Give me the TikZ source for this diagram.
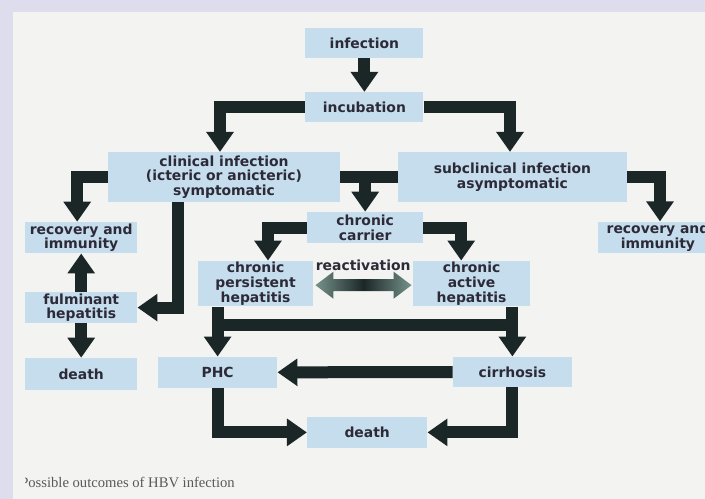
\documentclass[tikz,border=0pt]{standalone}
\usepackage{fontspec}
\newfontfamily\boxfont{DejaVu Sans}
\newfontfamily\capfont{Liberation Serif}
\usetikzlibrary{arrows.meta, positioning, calc}

\definecolor{paper}{RGB}{243,243,242}
\definecolor{frame}{RGB}{222,221,238}
\definecolor{boxblue}{RGB}{197,221,236}
\definecolor{arrowc}{RGB}{27,39,39}
\definecolor{inkc}{RGB}{45,42,56}
\definecolor{reactc}{RGB}{118,146,138}

\tikzset{
  outcome/.style={fill=boxblue, text=inkc, align=center, inner sep=1pt,
    minimum width=2.8cm, minimum height=0.78cm,
    font={\boxfont\bfseries\fontsize{9.9pt}{10.4pt}\selectfont}},
  flow/.style={draw=arrowc, line width=0.3cm, line join=miter,
    -{Triangle[width=0.66cm, length=0.5cm]}},
  joint/.style={draw=arrowc, line width=0.3cm}
}

\begin{document}
\begin{tikzpicture}
    % Page
    \clip (0,0) rectangle (17.625,-12.475);
    \fill[frame] (0,0) rectangle (17.625,-12.475);
    \fill[paper] (0.32,-0.3) rectangle (17.625,-12.475);

    % Stages
    \node[outcome, minimum width=2.95cm, minimum height=0.75cm] (infection) at (9.11,-1.08) {infection};
    \node[outcome, minimum width=2.95cm, minimum height=0.75cm] (incubation) at (9.11,-2.68) {incubation};
    \node[outcome, minimum width=5.8cm, minimum height=1.25cm] (clinical) at (5.6,-4.43) {clinical infection\\(icteric or anicteric)\\symptomatic};
    \node[outcome, minimum width=5.73cm, minimum height=1.25cm] (subclin) at (12.81,-4.43) {subclinical infection\\asymptomatic};
    \node[outcome] (recL) at (2.03,-5.94) {recovery and\\immunity};
    \node[outcome, minimum width=3cm, minimum height=0.76cm] (recR) at (16.45,-5.93) {recovery and\\immunity};
    \node[outcome, minimum width=2.9cm] (carrier) at (9.13,-5.69) {chronic\\carrier};
    \node[outcome, minimum width=2.88cm, minimum height=1.08cm] (cph) at (6.39,-7.09) {chronic\\persistent\\hepatitis};
    \node[outcome, minimum width=2.93cm, minimum height=1.08cm] (cah) at (11.79,-7.09) {chronic\\active\\hepatitis};
    \node[outcome] (fulminant) at (2.03,-7.69) {fulminant\\hepatitis};
    \node[outcome, minimum height=0.8cm] (deathL) at (2.03,-9.35) {death};
    \node[outcome, minimum width=2.98cm] (phc) at (5.44,-9.31) {PHC};
    \node[outcome, minimum width=2.98cm, minimum height=0.76cm] (cirrhosis) at (12.81,-9.3) {cirrhosis};
    \node[outcome, minimum width=3cm] (deathB) at (9.18,-10.81) {death};
    \node[text=inkc, inner sep=1pt, font={\boxfont\bfseries\fontsize{9.9pt}{10.4pt}\selectfont}] (react) at (9.08,-6.63) {reactivation};

    % Course of infection
    \draw[flow] (infection) -- (incubation);
    \draw[flow] (incubation.west) -| ([xshift=-0.1cm]clinical.north);
    \draw[flow] (incubation.east) -| ([xshift=-0.06cm]subclin.north);
    \draw[flow] (clinical.west) -| ([xshift=-0.1cm]recL.north);
    \draw[flow] (subclin.east) -| ([xshift=0.05cm]recR.north);
    \draw[joint] (clinical.east) -- (subclin.west);
    \draw[flow] (clinical.east -| carrier.north) -- (carrier.north);
    \draw[flow] (carrier.west) -| ([xshift=0.31cm]cph.north);
    \draw[flow] (carrier.east) -| ([xshift=-0.26cm]cah.north);
    \draw[flow] ([xshift=-1.15cm]clinical.south) |- (fulminant.east);
    \draw[flow] (fulminant) -- (recL);
    \draw[flow] (fulminant) -- (deathL);

    % Late outcomes
    \draw[flow] (cph.south -| phc.north) -- (phc.north);
    \draw[flow] (cah.south -| cirrhosis.north) -- (cirrhosis.north);
    \draw[joint] ($(cph.south -| phc.north)+(0,-0.45)$) -- ($(cah.south -| cirrhosis.north)+(0,-0.45)$);
    \draw[flow] (cirrhosis) -- (phc);
    \draw[flow] (phc.south) |- (deathB.west);
    \draw[flow] (cirrhosis.south) |- (deathB.east);

    % Reactivation
    \coordinate (rl) at ($(cph.east)+(0.05,-0.04)$);
    \coordinate (rr) at ($(cah.west)+(-0.03,-0.04)$);
    \shade[left color=reactc, right color=reactc, middle color=arrowc]
      (rl) -- ++(0.45,0.34) -- ++(0,-0.19) -- ($(rr)+(-0.45,0.15)$) -- ++(0,0.19)
      -- (rr) -- ++(-0.45,-0.34) -- ++(0,0.19) -- ($(rl)+(0.45,-0.15)$) -- ++(0,-0.19) -- cycle;

    % Caption
    \begin{scope}
      \clip (0.63,-11.6) rectangle (7,-12.4);
      \node[anchor=west, inner sep=0pt, text=black!65, font={\capfont\fontsize{10.4pt}{12pt}\selectfont}] (caption) at (0.5,-12.07) {Possible outcomes of HBV infection};
    \end{scope}
\end{tikzpicture}
\end{document}
